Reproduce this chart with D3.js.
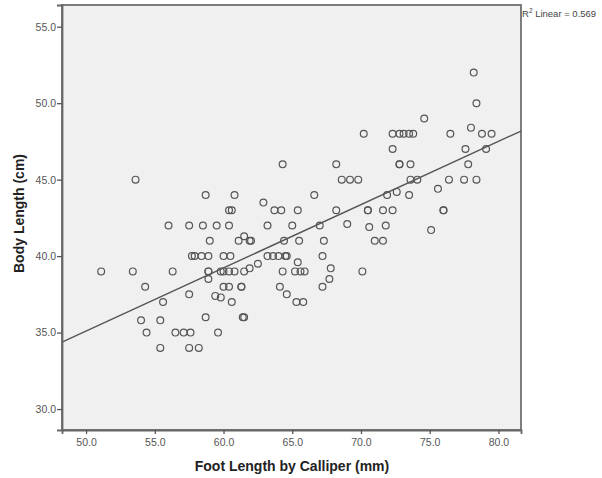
<!DOCTYPE html>
<html><head><meta charset="utf-8">
<script src="https://cdn.jsdelivr.net/npm/d3@7"></script>
<style>
html,body{margin:0;padding:0;background:#fff;}
svg{display:block;font-family:"Liberation Sans",Arial,sans-serif;}
</style></head>
<body>
<svg id="chart" width="602" height="478"></svg>
<script>
// Foot length by calliper (mm)
const footLength = [
53.6,58.7,56.0,57.5,58.5,59.5,59.0,57.7,57.9,58.4,58.9,51.1,53.4,56.3,58.9,58.9,58.9,54.3,57.5,55.6,
59.4,59.8,58.7,54.0,55.4,54.4,56.5,57.1,57.6,59.6,55.4,57.5,58.2,
70.2,64.3,68.2,68.6,69.2,69.8,60.8,62.9,66.6,60.4,60.6,63.7,64.2,65.4,68.2,60.4,63.2,65.0,67.0,69.0,
61.5,61.1,61.9,62.0,64.4,65.5,67.3,60.0,60.5,63.2,63.6,64.0,64.5,64.6,67.2,65.4,62.5,59.8,60.0,60.4,
60.8,61.5,61.9,64.3,65.2,65.6,65.9,67.8,70.1,60.0,60.4,61.3,61.3,64.1,67.7,67.2,60.6,64.6,65.3,65.8,
61.4,61.5,
78.2,78.4,74.6,72.3,72.8,73.1,73.5,73.8,76.5,78.0,78.8,79.5,72.3,77.6,79.1,72.8,72.8,73.6,77.8,73.6,
74.1,76.4,77.5,78.4,75.6,71.9,72.6,73.5,70.5,70.5,71.6,72.3,76.0,76.0,70.6,71.8,75.1,71.0,71.6
];
// Body length (cm)
const bodyLength = [
45.0,44.0,42.0,42.0,42.0,42.0,41.0,40.0,40.0,40.0,40.0,39.0,39.0,39.0,39.0,39.0,38.5,38.0,37.5,37.0,
37.4,37.3,36.0,35.8,35.8,35.0,35.0,35.0,35.0,35.0,34.0,34.0,34.0,
48.0,46.0,46.0,45.0,45.0,45.0,44.0,43.5,44.0,43.0,43.0,43.0,43.0,43.0,43.0,42.0,42.0,42.0,42.0,42.1,
41.3,41.0,41.0,41.0,41.0,41.0,41.0,40.0,40.0,40.0,40.0,40.0,40.0,40.0,40.0,39.6,39.5,39.0,39.0,39.0,
39.0,39.0,39.2,39.0,39.0,39.0,39.0,39.2,39.0,38.0,38.0,38.0,38.0,38.0,38.5,38.0,37.0,37.5,37.0,37.0,
36.0,36.0,
52.0,50.0,49.0,48.0,48.0,48.0,48.0,48.0,48.0,48.4,48.0,48.0,47.0,47.0,47.0,46.0,46.0,46.0,46.0,45.0,
45.0,45.0,45.0,45.0,44.4,44.0,44.2,44.0,43.0,43.0,43.0,43.0,43.0,43.0,41.9,42.0,41.7,41.0,41.0
];
const xTicks = [50, 55, 60, 65, 70, 75, 80];
const yTicks = [30, 35, 40, 45, 50, 55];
const xDomain = [48.25, 81.64];
const yDomain = [28.63, 56.42];
const xTitle = "Foot Length by Calliper (mm)";
const yTitle = "Body Length (cm)";
const r2Value = "0.569";

const svg = d3.select("#chart");
const L = 62, R = 521, T = 5, B = 430;
const x = d3.scaleLinear().domain(xDomain).range([L, R]);
const y = d3.scaleLinear().domain(yDomain).range([B, T]);

svg.append("rect").attr("x", L).attr("y", T).attr("width", R - L).attr("height", B - T)
  .attr("fill", "#f0f0f0").attr("stroke", "#707070").attr("stroke-width", 1.8);

// regression line (least squares through the points)
const n = footLength.length;
const mx = d3.mean(footLength), my = d3.mean(bodyLength);
let sxy = 0, sxx = 0;
for (let i = 0; i < n; i++) { sxy += (footLength[i]-mx)*(bodyLength[i]-my); sxx += (footLength[i]-mx)**2; }
const slope = sxy / sxx, icpt = my - slope * mx;

const pts = footLength.map((v, i) => [v, bodyLength[i]]);
svg.append("g").selectAll("circle").data(pts).join("circle")
  .attr("cx", d => x(d[0])).attr("cy", d => y(d[1])).attr("r", 3.4)
  .attr("fill", "none").attr("stroke", "#555").attr("stroke-width", 1.2);

svg.append("line")
  .attr("x1", x(xDomain[0])).attr("y1", y(icpt + slope * xDomain[0]))
  .attr("x2", x(xDomain[1])).attr("y2", y(icpt + slope * xDomain[1]))
  .attr("stroke", "#555").attr("stroke-width", 1.4);

const xAxis = svg.append("g").attr("transform", `translate(0,${B})`)
  .call(d3.axisBottom(x).tickValues(xTicks).tickFormat(d3.format(".1f")).tickSizeOuter(0).tickSize(4));
const yAxis = svg.append("g").attr("transform", `translate(${L},0)`)
  .call(d3.axisLeft(y).tickValues(yTicks).tickFormat(d3.format(".1f")).tickSizeOuter(0).tickSize(5));
[xAxis, yAxis].forEach(g => {
  g.select(".domain").attr("stroke", "#666").attr("stroke-width", 1.8);
  g.selectAll(".tick line").attr("stroke", "#555").attr("stroke-width", 1.3);
  g.selectAll(".tick text").attr("fill", "#555").attr("font-size", 10.5)
    .attr("font-family", "Liberation Sans, Arial, sans-serif");
});
xAxis.selectAll(".tick text").attr("dy", "0.9em").attr("y", 7);
yAxis.selectAll(".tick text").attr("x", -6);

svg.append("text").attr("x", 292).attr("y", 471).attr("text-anchor", "middle")
  .attr("font-size", 14).attr("font-weight", "bold").attr("fill", "#222").text(xTitle);
svg.append("text").attr("transform", `translate(24,${(T + B) / 2 - 4}) rotate(-90)`).attr("text-anchor", "middle")
  .attr("font-size", 14).attr("font-weight", "bold").attr("fill", "#222").text(yTitle);

const r2 = svg.append("text").attr("x", R + 1).attr("y", 17).attr("font-size", 9.5).attr("fill", "#444");
r2.append("tspan").text("R");
r2.append("tspan").attr("font-size", 6.5).attr("dy", -4).text("2");
r2.append("tspan").attr("dy", 4).text(" Linear = " + r2Value);
</script>
</body></html>
